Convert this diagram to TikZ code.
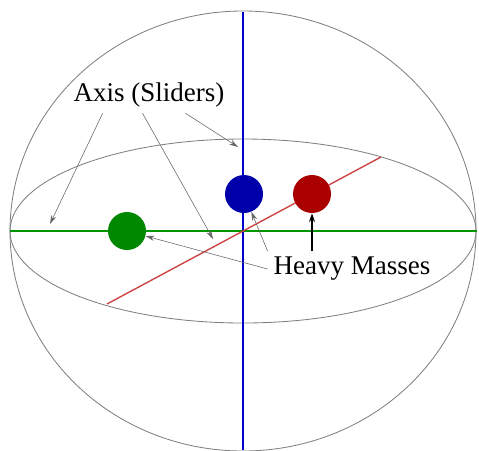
\documentclass[tikz,border=0pt]{standalone}
\usepackage{fontspec}
\setmainfont{Liberation Serif}
\usepackage{xcolor}
\usepackage{tikz}
\usetikzlibrary{arrows.meta, calc}

\definecolor{axisblue}{RGB}{0,0,200}
\definecolor{axisgreen}{RGB}{0,150,0}
\definecolor{axisred}{RGB}{205,70,70}
\definecolor{massblue}{RGB}{0,0,170}
\definecolor{massred}{RGB}{170,0,0}
\definecolor{massgreen}{RGB}{0,136,0}

\tikzset{
  shell/.style={draw=gray, line width=0.6pt},
  mass/.style={circle, minimum size=0.95cm, inner sep=0pt},
  label/.style={inner sep=0.15cm, outer sep=0pt, font=\fontsize{19.2}{23}\selectfont},
  pointer/.style={draw=gray!80!black, line width=0.4pt, -{Stealth[length=2.2mm,width=1.3mm]}},
}

\begin{document}
\begin{tikzpicture}[x=0.025cm, y=-0.025cm]
    \useasboundingbox (0,0) rectangle (479,450);

    % Sfera
    \draw[shell] (243,231) ellipse [x radius=233, y radius=220];
    \draw[shell] (243,231) ellipse [x radius=233, y radius=92];

    % Assi
    \draw[axisblue, line width=1pt] (243,12) -- (243,450);
    \draw[axisgreen, line width=1pt] (10,231) -- (477,231);
    \draw[axisred, line width=1pt] (107,304) -- (381,157);

    % Masse
    \node[mass, fill=massblue] (blue) at (244,194) {};
    \node[mass, fill=massred] (red) at (312,194) {};
    \node[mass, fill=massgreen] (green) at (127,231) {};

    % Etichette
    \node[label] (axis) at (149,95) {Axis (Sliders)};
    \node[label] (heavy) at (352,269) {Heavy Masses};

    \coordinate (tipgreen) at (50,224);
    \coordinate (tipred) at (213,239);
    \coordinate (tipblue) at (238,147);

    \draw[pointer] ($(axis.south west)!0.215!(axis.south east)$) -- (tipgreen);
    \draw[pointer] ($(axis.south west)!0.46!(axis.south east)$) -- (tipred);
    \draw[pointer] ($(axis.south west)!0.724!(axis.south east)$) -- (tipblue);

    \draw[pointer] (heavy.west) -- (green);
    \draw[pointer] (heavy.north west) -- (blue);
    \draw[line width=1.1pt, -{Stealth[length=2.2mm,width=1.5mm]}] (heavy.north -| red) -- (red);
\end{tikzpicture}
\end{document}
